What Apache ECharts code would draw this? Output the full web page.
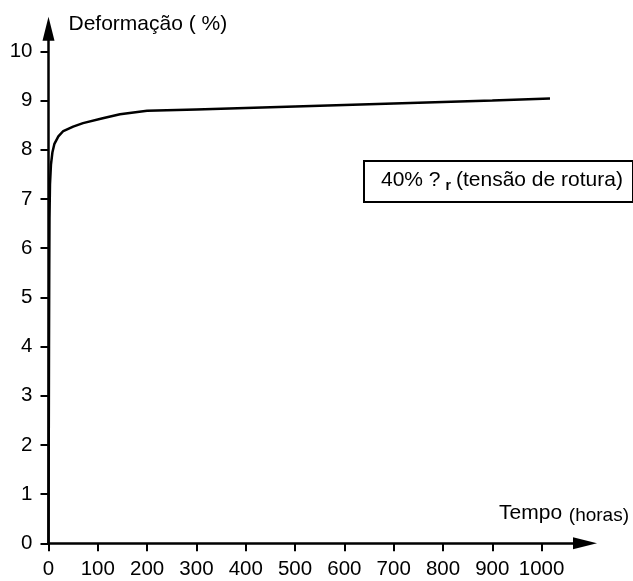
<!DOCTYPE html>
<html>
<head>
<meta charset="utf-8">
<script src="https://cdn.jsdelivr.net/npm/echarts@6/dist/echarts.min.js"></script>
<style>
html,body{margin:0;padding:0;background:#fff;}
#chart{width:633px;height:581px;}
</style>
</head>
<body>
<div id="chart"></div>
<script>
// Data
const hours = [0, 0.5, 1, 1.5, 2, 3, 5, 8, 12, 20, 30, 50, 70, 110, 145, 200, 300, 400, 500, 600, 700, 800, 900, 1017];
const deformation = [0, 2, 4, 5.5, 6.6, 7.3, 7.7, 7.95, 8.12, 8.27, 8.38, 8.47, 8.54, 8.64, 8.72, 8.79, 8.82, 8.85, 8.88, 8.91, 8.94, 8.97, 9.0, 9.04];
const xTicks = [0, 100, 200, 300, 400, 500, 600, 700, 800, 900, 1000];
const yTicks = [0, 1, 2, 3, 4, 5, 6, 7, 8, 9, 10];
const yTitle = 'Deformação ( %)';
const xTitle = 'Tempo';
const xUnit = '(horas)';
const noteMain = '40% ?';
const noteSub = 'r';
const noteRest = '(tensão de rotura)';

const FONT = '"Liberation Sans", Arial, sans-serif';
const seriesData = hours.map((h, i) => [h, deformation[i]]);

const chart = echarts.init(document.getElementById('chart'), null, {renderer: 'canvas'});
chart.setOption({
  backgroundColor: '#ffffff',
  animation: false,
  textStyle: {fontFamily: FONT, color: '#000'},
  title: {
    text: '{m|' + noteMain + '} {s|' + noteSub + '} {m|' + noteRest + '}',
    left: 364,
    top: 158,
    padding: [9, 10, 9, 17],
    borderColor: '#000',
    borderWidth: 2,
    backgroundColor: '#fff',
    textStyle: {
      fontWeight: 'normal',
      rich: {
        m: {fontFamily: FONT, fontSize: 21, fontWeight: 'normal', color: '#000', lineHeight: 26, verticalAlign: 'middle'},
        s: {fontFamily: FONT, fontSize: 14, fontWeight: 'bold', color: '#000', lineHeight: 26, verticalAlign: 'bottom'}
      }
    }
  },
  grid: {left: 48.5, right: 48, top: 28.7, bottom: 37.7, containLabel: false},
  xAxis: {
    type: 'value',
    min: 0,
    max: 1088,
    name: '{t|' + xTitle + '}  {h|' + xUnit + '}',
    nameLocation: 'end',
    nameGap: 44,
    nameTextStyle: {
      align: 'right',
      verticalAlign: 'bottom',
      padding: [0, 0, 18, 0],
      rich: {
        t: {fontFamily: FONT, fontSize: 21, color: '#000', lineHeight: 24, verticalAlign: 'middle'},
        h: {fontFamily: FONT, fontSize: 19, color: '#000', lineHeight: 24, verticalAlign: 'bottom'}
      }
    },
    axisLine: {
      show: true,
      onZero: false,
      symbol: ['none', 'triangle'],
      symbolSize: [12, 24],
      lineStyle: {color: '#000', width: 2.5}
    },
    axisTick: {show: true, customValues: xTicks, length: 8, lineStyle: {color: '#000', width: 2}},
    axisLabel: {customValues: xTicks, margin: 16, fontSize: 20.5, fontFamily: FONT, color: '#000',
      formatter: v => String(v)},
    splitLine: {show: false}
  },
  yAxis: {
    type: 'value',
    min: 0,
    max: 10.46,
    name: yTitle,
    nameLocation: 'end',
    nameGap: 4,
    nameTextStyle: {
      align: 'left',
      verticalAlign: 'middle',
      padding: [0, 0, 0, 20],
      fontFamily: FONT,
      fontSize: 21,
      color: '#000'
    },
    axisLine: {
      show: true,
      onZero: false,
      symbol: ['none', 'triangle'],
      symbolSize: [12, 24],
      lineStyle: {color: '#000', width: 2.5}
    },
    axisTick: {show: true, customValues: yTicks, length: 8, lineStyle: {color: '#000', width: 2}},
    axisLabel: {customValues: yTicks, margin: 16, fontSize: 20.5, fontFamily: FONT, color: '#000',
      formatter: v => String(v)},
    splitLine: {show: false}
  },
  series: [{
    type: 'line',
    data: seriesData,
    showSymbol: false,
    symbol: 'none',
    smooth: false,
    lineStyle: {color: '#000', width: 2.5},
    z: 3
  }]
});
</script>
</body>
</html>
